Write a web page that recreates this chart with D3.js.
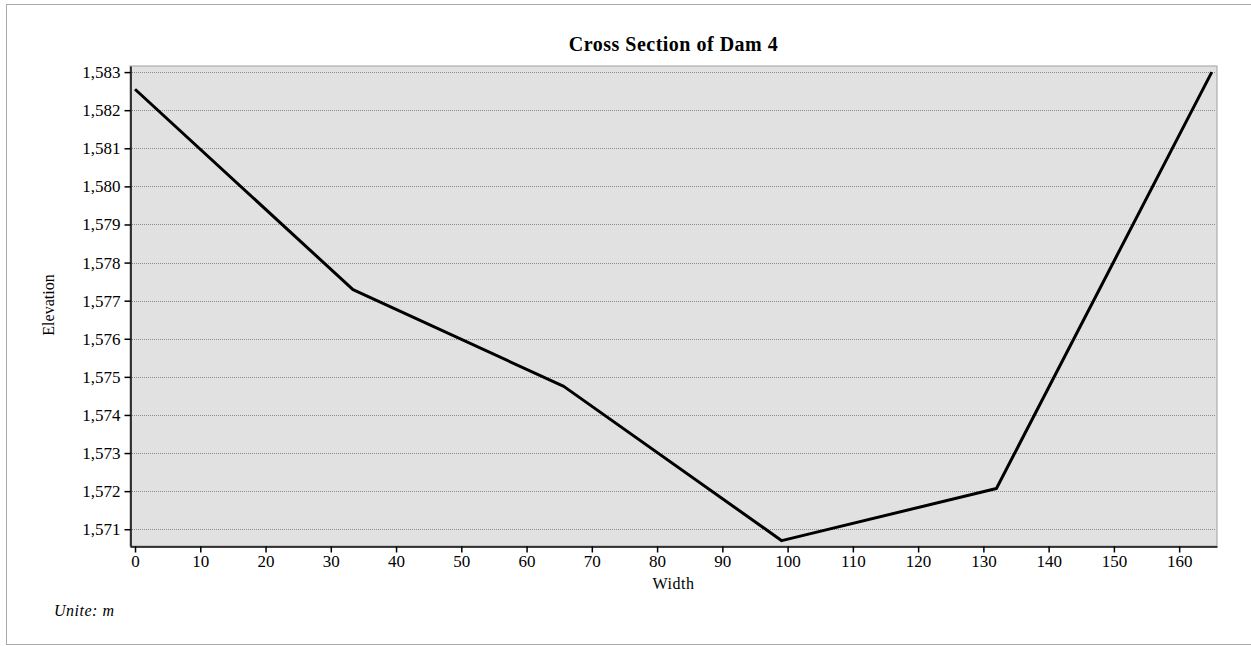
<!DOCTYPE html>
<html>
<head>
<meta charset="utf-8">
<script src="https://cdn.jsdelivr.net/npm/d3@7"></script>
<style>
  body { margin: 0; background: #fff; }
  svg { display: block; }
</style>
</head>
<body>
<svg id="chart"></svg>
<script>
// cross section points (width m, elevation m)
const widths = [0, 33.4, 65.7, 99.1, 132, 165];
const elevations = [1582.55, 1577.29, 1574.75, 1570.7, 1572.07, 1583];
const xTicks = [0, 10, 20, 30, 40, 50, 60, 70, 80, 90, 100, 110, 120, 130, 140, 150, 160];
const yTicks = [1571, 1572, 1573, 1574, 1575, 1576, 1577, 1578, 1579, 1580, 1581, 1582, 1583];

const width = 1251, height = 646;
const margin = { top: 66, right: 34, bottom: 100, left: 130 };
const serif = "'Liberation Serif', 'Times New Roman', serif";

const svg = d3.select("#chart").attr("width", width).attr("height", height);

// outer frame
svg.append("rect")
    .attr("x", 6.5).attr("y", 4.5)
    .attr("width", 1250).attr("height", 640)
    .attr("fill", "#fff")
    .attr("stroke", "#a8a8a8");

const x = d3.scaleLinear().domain([-0.77, 165.8]).range([margin.left, width - margin.right]);
const y = d3.scaleLinear().domain([1570.56, 1583.16]).range([height - margin.bottom, margin.top]);

const x0 = x.range()[0], x1 = x.range()[1];
const y0 = y.range()[0], y1 = y.range()[1];

// plot background
svg.append("rect")
    .attr("x", x0).attr("y", y1)
    .attr("width", x1 - x0).attr("height", y0 - y1)
    .attr("fill", "#e1e1e1")
    .attr("stroke", "#a0a0a0");

// horizontal grid
svg.append("g")
    .selectAll("line")
    .data(yTicks)
    .join("line")
    .attr("x1", x0).attr("x2", x1 - 1)
    .attr("y1", d => Math.round(y(d)) + 0.5)
    .attr("y2", d => Math.round(y(d)) + 0.5)
    .attr("stroke", "#8a8a8a")
    .attr("stroke-dasharray", "1,1");

// axes
const yAxis = svg.append("g")
    .attr("transform", `translate(${x0 + 0.5},0)`)
    .call(d3.axisLeft(y).tickValues(yTicks).tickFormat(d3.format(","))
        .tickSizeInner(6).tickSizeOuter(0).tickPadding(4));

const xAxis = svg.append("g")
    .attr("transform", `translate(0,${y0 + 0.5})`)
    .call(d3.axisBottom(x).tickValues(xTicks)
        .tickSizeInner(6).tickSizeOuter(0).tickPadding(2));

[xAxis, yAxis].forEach(g => {
    g.select(".domain").attr("stroke", "#000").attr("stroke-width", 1.5);
    g.selectAll(".tick line").attr("stroke", "#000").attr("stroke-width", 1.5);
    g.selectAll("text")
        .attr("fill", "#000")
        .style("font-family", serif)
        .style("font-size", "17px");
});

// cross section line
const pts = widths.map((w, i) => ({ w: w, e: elevations[i] }));
svg.append("path")
    .datum(pts)
    .attr("fill", "none")
    .attr("stroke", "#000")
    .attr("stroke-width", 3)
    .attr("stroke-linejoin", "round")
    .attr("d", d3.line().x(d => x(d.w)).y(d => y(d.e)));

// title
svg.append("text")
    .attr("x", (x0 + x1) / 2).attr("y", 51)
    .attr("text-anchor", "middle")
    .style("font-family", serif)
    .style("font-weight", "bold")
    .style("font-size", "20px")
    .style("letter-spacing", "0.5px")
    .text("Cross Section of Dam 4");

// axis titles
svg.append("text")
    .attr("x", (x0 + x1) / 2).attr("y", 589)
    .attr("text-anchor", "middle")
    .style("font-family", serif)
    .style("font-size", "16px")
    .style("letter-spacing", "0.5px")
    .text("Width");

svg.append("text")
    .attr("transform", "translate(54,305) rotate(-90)")
    .attr("text-anchor", "middle")
    .style("font-family", serif)
    .style("font-size", "16px")
    .text("Elevation");

svg.append("text")
    .attr("x", 54).attr("y", 616)
    .style("font-family", serif)
    .style("font-style", "italic")
    .style("font-size", "16px")
    .style("letter-spacing", "0.5px")
    .text("Unite: m");
</script>
</body>
</html>
